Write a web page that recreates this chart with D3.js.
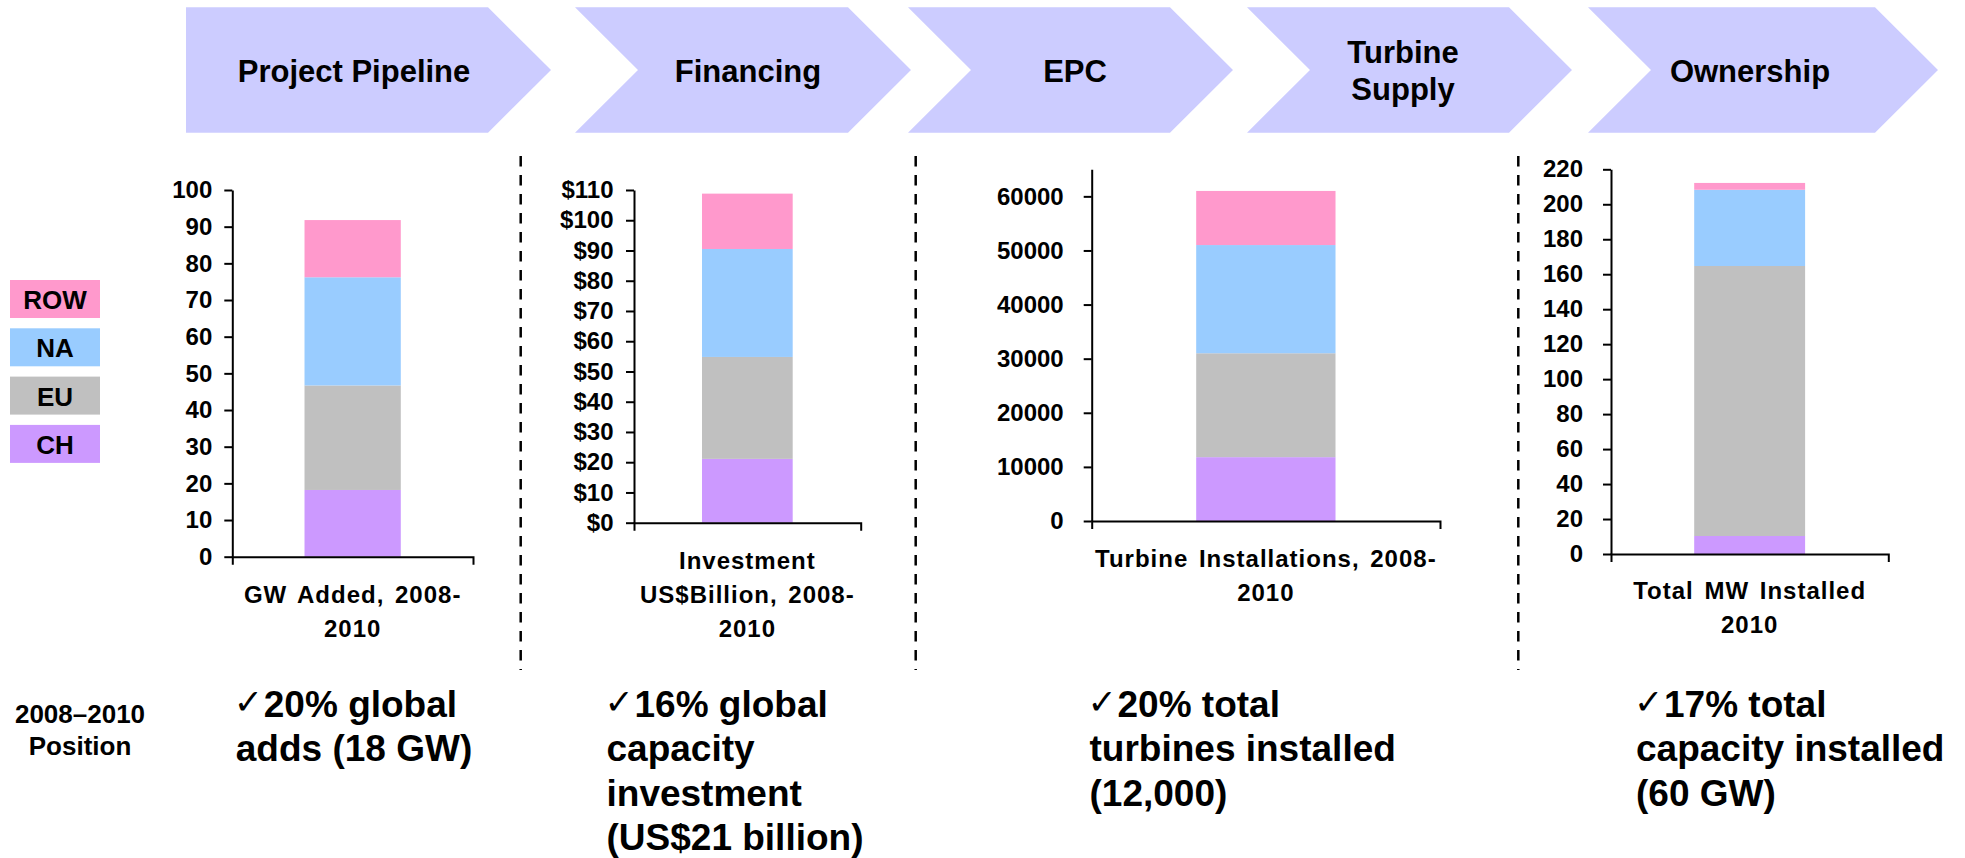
<!DOCTYPE html>
<html>
<head>
<meta charset="utf-8">
<script src="https://cdn.jsdelivr.net/npm/d3@7"></script>
<style>
  body { margin: 0; background: #fff; }
  svg text { font-family: "Liberation Sans", Arial, sans-serif; font-weight: bold; fill: #000; }
</style>
</head>
<body>
<div id="chart"></div>
<script>
// Regions, stacked bottom to top
let regions = ["CH", "EU", "NA", "ROW"];
let regionColors = ["#CC99FF", "#C0C0C0", "#99CCFF", "#FF99CC"];
let legendOrder = ["ROW", "NA", "EU", "CH"];

// Value chain stages (chevrons)
let stages = [["Project Pipeline"], ["Financing"], ["EPC"], ["Turbine", "Supply"], ["Ownership"]];

// Stacked values per region: CH, EU, NA, ROW
let gwAdded = [18.2, 28.5, 29.5, 15.6];
let investment = [21.1, 33.7, 35.7, 18.3];
let turbines = [11800, 19200, 20000, 10000];
let mwInstalled = [10.3, 154.4, 43.6, 3.9];

// Tick values
let gwTicks = [0, 10, 20, 30, 40, 50, 60, 70, 80, 90, 100];
let investTicks = [0, 10, 20, 30, 40, 50, 60, 70, 80, 90, 100, 110];
let turbineTicks = [0, 10000, 20000, 30000, 40000, 50000, 60000];
let mwTicks = [0, 20, 40, 60, 80, 100, 120, 140, 160, 180, 200, 220];

// Axis category labels
let gwLabel = ["GW Added, 2008-", "2010"];
let investLabel = ["Investment", "US$Billion, 2008-", "2010"];
let turbineLabel = ["Turbine Installations, 2008-", "2010"];
let mwLabel = ["Total MW Installed", "2010"];

// 2008-2010 position notes
let positionTitle = ["2008\u20132010", "Position"];
let notes = [
  ["20% global", "adds (18 GW)"],
  ["16% global", "capacity", "investment", "(US$21 billion)"],
  ["20% total", "turbines installed", "(12,000)"],
  ["17% total", "capacity installed", "(60 GW)"]
];

let width = 1965, height = 858;

let svg = d3.select("#chart")
    .append("svg")
    .attr("width", width)
    .attr("height", height);

// ---- chevrons across the top
let chevTop = 7.3, chevBottom = 132.7, chevMid = 70, chevDepth = 63;
let chevLayout = [
  { left: 186, right: 488, notch: false, cx: 354, lines: [82] },
  { left: 575, right: 848, notch: true, cx: 748, lines: [82] },
  { left: 908, right: 1170, notch: true, cx: 1075, lines: [82] },
  { left: 1247, right: 1509, notch: true, cx: 1403, lines: [63, 100] },
  { left: 1588, right: 1875, notch: true, cx: 1750, lines: [82] }
];

let line = d3.line();
chevLayout.forEach(function(c, i) {
  let pts = [[c.left, chevTop], [c.right, chevTop], [c.right + chevDepth, chevMid],
             [c.right, chevBottom], [c.left, chevBottom]];
  if (c.notch) pts.push([c.left + chevDepth, chevMid]);
  svg.append("path")
      .attr("d", line(pts) + "Z")
      .attr("fill", "#CCCCFF");

  svg.append("text")
      .style("font-size", "31px")
      .style("text-anchor", "middle")
      .selectAll("tspan")
      .data(stages[i])
      .enter()
      .append("tspan")
      .attr("x", c.cx)
      .attr("y", function(d, j) { return c.lines[j]; })
      .text(function(d) { return d; });
});

// ---- legend
let legend = svg.append("g");
legendOrder.forEach(function(r, i) {
  let y0 = 280 + i * 48.3;
  legend.append("rect")
      .attr("x", 10)
      .attr("y", y0)
      .attr("width", 90)
      .attr("height", 38)
      .attr("fill", regionColors[regions.indexOf(r)]);
  legend.append("text")
      .attr("x", 55)
      .attr("y", y0 + 29)
      .style("text-anchor", "middle")
      .style("font-size", "26px")
      .text(r);
});

// ---- dashed separators
[520.7, 915.7, 1518.3].forEach(function(x) {
  svg.append("line")
      .attr("x1", x).attr("x2", x)
      .attr("y1", 156).attr("y2", 670)
      .attr("stroke", "#000")
      .attr("stroke-width", 2.5)
      .attr("stroke-dasharray", "10.5,8.5");
});

// ---- stacked bar charts
let charts = [
  { values: gwAdded, ticks: gwTicks, max: 100, label: gwLabel, fmt: d3.format("d"),
    left: 232.3, right: 473, top: 190, bottom: 556.7, pad: 12, labelGap: 46 },
  { values: investment, ticks: investTicks, max: 110, label: investLabel, fmt: function(d) { return "$" + d; },
    left: 634, right: 860.7, top: 190, bottom: 522.7, pad: 12.5, labelGap: 46 },
  { values: turbines, ticks: turbineTicks, max: 65000, label: turbineLabel, fmt: d3.format("d"),
    left: 1091.7, right: 1440, top: 169.3, bottom: 521, pad: 20, labelGap: 46 },
  { values: mwInstalled, ticks: mwTicks, max: 220, label: mwLabel, fmt: d3.format("d"),
    left: 1611, right: 1888.3, top: 169.3, bottom: 554, pad: 20, labelGap: 44.5 }
];

charts.forEach(function(c) {
  let g = svg.append("g")
      .attr("transform", `translate(${c.left}, 0)`);
  let w = c.right - c.left;

  // one category, bar is 40% of the plot width
  let x = d3.scaleBand()
      .domain(["total"])
      .range([0, w])
      .paddingInner(0)
      .paddingOuter(0.75);

  let y = d3.scaleLinear()
      .domain([0, c.max])
      .range([c.bottom, c.top]);

  let row = { key: "total" };
  regions.forEach(function(r, i) { row[r] = c.values[i]; });
  let series = d3.stack().keys(regions)([row]);

  g.selectAll("rect")
      .data(series)
      .enter()
      .append("rect")
      .attr("x", x("total"))
      .attr("width", x.bandwidth())
      .attr("y", function(d) { return y(d[0][1]); })
      .attr("height", function(d) { return y(d[0][0]) - y(d[0][1]); })
      .attr("fill", function(d, i) { return regionColors[i]; });

  let yAxis = g.append("g")
      .call(d3.axisLeft(y).tickValues(c.ticks).tickSizeInner(8).tickSizeOuter(0)
            .tickPadding(c.pad).tickFormat(c.fmt));
  yAxis.selectAll("text").style("font-size", "24px");

  let xAxis = g.append("g")
      .attr("transform", `translate(0, ${c.bottom})`)
      .call(d3.axisBottom(x).tickSizeInner(0).tickSizeOuter(8).tickFormat(""));

  g.selectAll(".domain, .tick line")
      .attr("stroke", "#000")
      .attr("stroke-width", 2);

  // category label under the axis
  g.append("text")
      .style("text-anchor", "middle")
      .style("font-size", "24px")
      .style("letter-spacing", "1px")
      .style("word-spacing", "3px")
      .selectAll("tspan")
      .data(c.label)
      .enter()
      .append("tspan")
      .attr("x", w / 2)
      .attr("y", function(d, j) { return c.bottom + c.labelGap + j * 34; })
      .text(function(d) { return d; });
});

// ---- position row
svg.append("text")
    .style("text-anchor", "middle")
    .style("font-size", "26px")
    .selectAll("tspan")
    .data(positionTitle)
    .enter()
    .append("tspan")
    .attr("x", 80)
    .attr("y", function(d, j) { return 723.3 + j * 32; })
    .text(function(d) { return d; });

let noteX = [237.3, 608, 1091, 1637.5];
notes.forEach(function(n, i) {
  // check mark ahead of the first line
  svg.append("text")
      .attr("x", noteX[i] - 3.5)
      .attr("y", 714)
      .style("font-family", "'DejaVu Sans'")
      .style("font-weight", "normal")
      .style("font-size", "35px")
      .text("\u2713");

  svg.append("text")
      .style("font-size", "37px")
      .selectAll("tspan")
      .data(n)
      .enter()
      .append("tspan")
      .attr("x", function(d, j) { return j === 0 ? noteX[i] + 26.5 : noteX[i] - 1.5; })
      .attr("y", function(d, j) { return 716.7 + j * 44.5; })
      .text(function(d) { return d; });
});
</script>
</body>
</html>
